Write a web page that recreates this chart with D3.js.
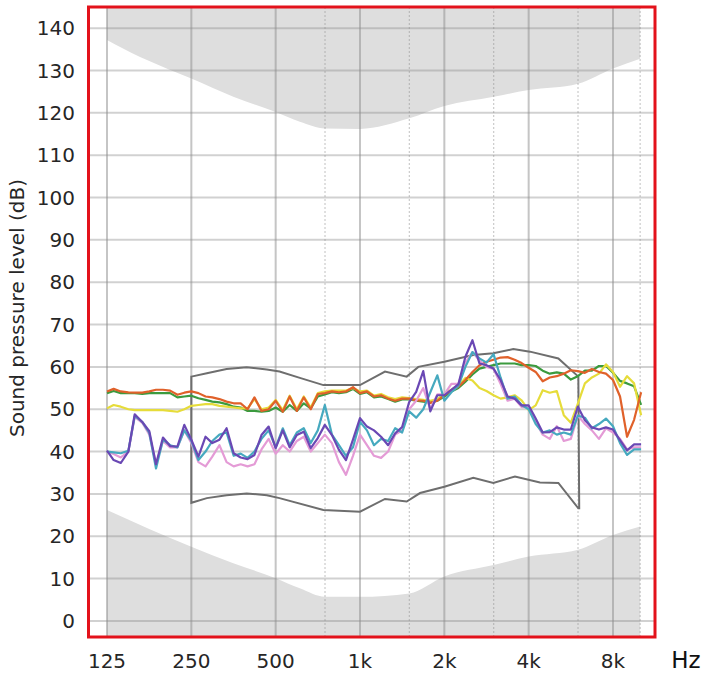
<!DOCTYPE html>
<html>
<head>
<meta charset="utf-8">
<script src="https://cdn.jsdelivr.net/npm/d3@7"></script>
<style>
  body { margin: 0; background: #fff; }
  svg { display: block; }
  text { font-family: "DejaVu Sans", Verdana, sans-serif; fill: #262626; }
</style>
</head>
<body>
<svg id="chart" width="706" height="676"></svg>
<script>
// frequency grid (Hz), 1/12 octave steps from 125 Hz
const freqs = [125, 132, 140, 149, 157, 167, 177, 187, 198, 210, 223, 236, 250, 265, 281, 297, 315, 334, 354, 375,
  397, 420, 445, 472, 500, 530, 561, 595, 630, 667, 707, 749, 794, 841, 891, 944, 1000, 1059, 1122, 1189,
  1260, 1335, 1414, 1498, 1587, 1682, 1782, 1888, 2000, 2119, 2245, 2378, 2520, 2670, 2828, 2997, 3175, 3364, 3564, 3775,
  4000, 4238, 4490, 4757, 5040, 5339, 5657, 5993, 6350, 6727, 7127, 7551, 8000, 8476, 8980, 9514, 10079];

const xTickFreqs = [125, 250, 500, 1000, 2000, 4000, 8000];
const xTickLabels = ["125", "250", "500", "1k", "2k", "4k", "8k"];
const midFreqs = [750, 1500, 3000, 6000, 10000];
const yTicks = [0, 10, 20, 30, 40, 50, 60, 70, 80, 90, 100, 110, 120, 130, 140];

// grey shaded limits [Hz, dB]
const upperLimit = [[125, 137.2], [164, 133.2], [204, 130.5], [250, 128.1], [353, 123.8], [500, 120.2], [610, 117.9],
  [750, 116.3], [1000, 116.2], [1500, 118.7], [2000, 121.6], [3000, 123.8], [4000, 125.4], [6000, 126.9],
  [8000, 130.5], [10000, 132.8]];
const lowerLimit = [[125, 26.2], [250, 17.5], [353, 13.6], [500, 10.1], [610, 7.7], [750, 5.7], [1000, 5.7],
  [1500, 6.5], [2000, 10.5], [3000, 13.2], [4000, 15.2], [6000, 16.8], [8000, 20.3], [10000, 22.3]];

// dark grey target outline [Hz, dB]
const targetTop = [[250, 57.7], [284, 58.5], [334, 59.5], [394, 59.9], [465, 59.4], [516, 58.9], [610, 57.4],
  [740, 55.7], [1000, 55.7], [1228, 58.9], [1468, 57.7], [1615, 60], [2000, 61.2], [2538, 62.8], [2992, 63.2],
  [3526, 64.2], [4044, 63.6], [5106, 62], [6017, 57.7], [6060, 26.6]];
const targetBottom = [[6017, 26.6], [5106, 32.6], [4390, 32.7], [3574, 34.1], [2992, 32.6], [2538, 33.8],
  [2000, 31.7], [1638, 30.2], [1468, 28.2], [1228, 28.8], [1000, 25.8], [740, 26.2], [516, 29], [465, 29.7],
  [394, 30.1], [334, 29.7], [284, 29], [250, 27.9]];

// measured curves (dB SPL)
const green = [53.8, 54.3, 53.8, 53.8, 53.8, 53.6, 53.8, 53.8, 53.8, 53.8,
  52.8, 53.0, 53.2, 52.6, 52.2, 51.8, 51.6, 51.2, 50.6, 50.4,
  49.6, 49.6, 49.4, 49.6, 50.4, 49.4, 51.0, 49.6, 51.4, 50.2,
  53.0, 53.5, 54.0, 53.8, 54.0, 54.8, 53.6, 54.0, 52.8, 53.0,
  52.4, 51.8, 52.3, 52.3, 52.0, 51.8, 51.6, 52.0, 53.0, 54.2,
  55.0, 56.5, 58.2, 59.6, 60.0, 60.4, 60.8, 60.8, 60.8, 60.4,
  60.4, 60.2, 59.1, 58.4, 58.7, 58.4, 57.0, 57.8, 59.1, 59.1,
  60.2, 60.2, 58.6, 56.7, 56.1, 55.4, 51.0];
const yellow = [50.2, 51.0, 50.6, 50.0, 49.8, 49.8, 49.8, 49.8, 49.8, 49.6,
  49.4, 50.0, 50.8, 51.0, 51.2, 51.2, 50.8, 50.6, 50.4, 50.2,
  50.2, 52.4, 50.0, 50.4, 52.2, 49.8, 53.2, 50.0, 53.0, 50.4,
  53.8, 54.2, 54.4, 54.4, 54.4, 55.0, 54.2, 54.4, 53.2, 53.6,
  52.8, 52.4, 52.8, 52.6, 52.4, 52.2, 52.0, 52.4, 53.6, 54.6,
  55.6, 57.4, 56.8, 55.0, 54.3, 53.3, 52.5, 52.8, 53.3, 52.1,
  49.8, 50.9, 54.5, 53.9, 54.3, 48.6, 46.8, 51.3, 56.1, 57.5,
  58.4, 60.6, 58.8, 55.3, 57.8, 56.1, 48.6];
const orange = [54.2, 54.8, 54.2, 54.0, 53.9, 53.9, 54.2, 54.6, 54.6, 54.4,
  53.4, 53.9, 54.2, 53.8, 53.0, 52.8, 52.4, 51.8, 51.4, 51.4,
  50.0, 52.8, 49.6, 50.0, 52.0, 49.4, 53.0, 49.6, 52.8, 50.0,
  53.6, 53.8, 54.2, 54.0, 54.2, 55.2, 53.8, 54.2, 53.0, 53.3,
  52.5, 52.0, 52.5, 52.5, 52.1, 52.0, 51.5, 52.0, 53.3, 54.5,
  55.3, 56.9, 58.8, 60.4, 61.2, 61.7, 62.2, 62.3, 61.7, 60.9,
  59.8, 58.8, 56.6, 57.5, 57.8, 58.4, 59.2, 59.0, 58.6, 59.5,
  58.8, 58.4, 56.9, 53.0, 43.5, 47.5, 54.0];
const pink = [40.0, 39.4, 38.6, 40.0, 48.2, 46.8, 44.0, 37.0, 42.5, 41.0,
  41.0, 45.0, 42.0, 37.5, 36.5, 38.8, 41.5, 37.5, 36.5, 37.0,
  36.5, 37.0, 40.5, 43.0, 39.5, 41.5, 40.0, 42.5, 43.5, 40.0,
  42.0, 44.0, 42.0, 37.5, 34.5, 39.0, 44.0, 41.5, 39.0, 38.5,
  40.0, 44.0, 45.0, 50.0, 52.0, 55.0, 50.0, 53.5, 53.5, 56.0,
  56.0, 61.0, 63.5, 61.5, 60.0, 59.5, 56.0, 52.0, 52.5, 50.5,
  50.5, 47.0, 44.0, 43.0, 46.0, 42.5, 43.0, 48.5, 46.5, 45.0,
  43.0, 45.5, 44.5, 43.0, 40.5, 41.0, 41.0];
const teal = [40.0, 39.8, 39.6, 40.2, 48.4, 47.0, 44.4, 36.0, 42.8, 41.5,
  41.0, 45.0, 42.5, 38.0, 40.0, 42.5, 44.0, 44.5, 39.0, 39.5,
  38.5, 40.0, 43.0, 45.0, 41.0, 45.5, 41.5, 44.5, 45.5, 42.0,
  45.0, 51.0, 44.0, 41.5, 39.0, 41.0, 47.0, 45.0, 41.5, 43.0,
  42.5, 45.5, 44.5, 49.5, 48.0, 50.0, 54.0, 58.0, 52.0, 54.0,
  55.5, 60.0, 63.5, 62.0, 61.0, 63.0, 57.5, 52.5, 53.0, 51.0,
  50.0, 46.5, 44.5, 45.0, 44.0, 44.5, 44.0, 48.5, 48.0, 45.5,
  46.5, 47.8, 46.0, 42.0, 39.2, 40.5, 40.5];
const purple = [40.2, 38.0, 37.3, 40.0, 48.8, 47.0, 44.8, 37.0, 43.3, 41.3,
  41.2, 46.3, 42.8, 38.8, 43.5, 42.0, 42.8, 45.5, 39.6, 38.6,
  38.2, 39.2, 43.9, 45.9, 40.8, 45.0, 41.0, 43.9, 44.7, 40.8,
  43.2, 46.3, 43.9, 40.4, 38.0, 42.8, 47.9, 45.9, 45.0, 43.5,
  41.5, 44.3, 45.8, 51.7, 54.1, 59.0, 49.5, 53.3, 53.3, 54.6,
  55.9, 62.4, 66.3, 60.8, 60.4, 59.6, 56.9, 53.0, 52.5, 50.9,
  50.9, 47.8, 44.5, 44.6, 45.7, 45.2, 45.2, 50.6, 47.4, 45.7,
  45.2, 45.7, 45.2, 42.7, 40.3, 41.7, 41.7];

const series = [
  { values: green, color: "#3b9a3e" },
  { values: yellow, color: "#e6dc3a" },
  { values: orange, color: "#e0612a" },
  { values: pink, color: "#e49bd6" },
  { values: teal, color: "#46a9bf" },
  { values: purple, color: "#6a48b4" }
];

const svg = d3.select("#chart");
const x = d3.scaleLog().domain([125, 8000]).range([107, 613]);
const y = d3.scaleLinear().domain([-3.8, 145]).range([637, 7]);
const plotLeft = 88.5, plotRight = 655, plotTop = y.range()[1], plotBottom = y.range()[0];

// shaded limits
svg.append("path")
  .datum(upperLimit)
  .attr("fill", "#dedede")
  .attr("d", d3.area().curve(d3.curveMonotoneX)
    .x(d => x(d[0])).y0(plotTop).y1(d => y(d[1])));
svg.append("path")
  .datum(lowerLimit)
  .attr("fill", "#dedede")
  .attr("d", d3.area().curve(d3.curveMonotoneX)
    .x(d => x(d[0])).y0(plotBottom).y1(d => y(d[1])));

// grid
const grid = svg.append("g").attr("stroke", "#8c8c8c");
grid.selectAll("line.h").data(yTicks).enter().append("line")
  .attr("x1", plotLeft).attr("x2", plotRight)
  .attr("y1", d => y(d)).attr("y2", d => y(d))
  .attr("stroke-width", 2)
  .attr("stroke-opacity", 0.4);
grid.selectAll("line.v").data(xTickFreqs).enter().append("line")
  .attr("x1", d => x(d)).attr("x2", d => x(d))
  .attr("y1", plotTop).attr("y2", plotBottom)
  .attr("stroke-width", 2)
  .attr("stroke-opacity", 0.5);
grid.selectAll("line.m").data(midFreqs).enter().append("line")
  .attr("x1", d => x(d)).attr("x2", d => x(d))
  .attr("y1", plotTop).attr("y2", plotBottom)
  .attr("stroke-width", 1.2)
  .attr("stroke-opacity", 0.45)
  .attr("stroke-dasharray", "2,2");

// target outline
const pts = d3.line().x(d => x(d[0])).y(d => y(d[1]));
svg.append("path")
  .attr("d", pts(targetTop.concat(targetBottom)) + "Z")
  .attr("fill", "none")
  .attr("stroke", "#6e6e6e")
  .attr("stroke-width", 2);

// measured curves
const line = d3.line().x((d, i) => x(freqs[i])).y(d => y(d));
svg.selectAll("path.curve").data(series).enter().append("path")
  .attr("class", "curve")
  .attr("d", d => line(d.values))
  .attr("fill", "none")
  .attr("stroke", d => d.color)
  .attr("stroke-width", 2.2)
  .attr("stroke-linejoin", "round");

// frame
svg.append("rect")
  .attr("x", plotLeft).attr("y", plotTop)
  .attr("width", plotRight - plotLeft).attr("height", plotBottom - plotTop)
  .attr("fill", "none")
  .attr("stroke", "#e3121b")
  .attr("stroke-width", 3);

// labels
svg.selectAll("text.y").data(yTicks).enter().append("text")
  .attr("x", 75).attr("y", d => y(d)).attr("dy", "0.36em")
  .attr("text-anchor", "end").attr("font-size", 20)
  .text(d => d);
svg.selectAll("text.x").data(xTickFreqs).enter().append("text")
  .attr("x", d => x(d)).attr("y", 668)
  .attr("text-anchor", "middle").attr("font-size", 20)
  .text((d, i) => xTickLabels[i]);
svg.append("text")
  .attr("x", 686).attr("y", 668)
  .attr("text-anchor", "middle").attr("font-size", 23)
  .style("fill", "#111")
  .text("Hz");
svg.append("text")
  .attr("transform", "translate(24,308) rotate(-90)")
  .attr("text-anchor", "middle").attr("font-size", 20)
  .text("Sound pressure level (dB)");
</script>
</body>
</html>
